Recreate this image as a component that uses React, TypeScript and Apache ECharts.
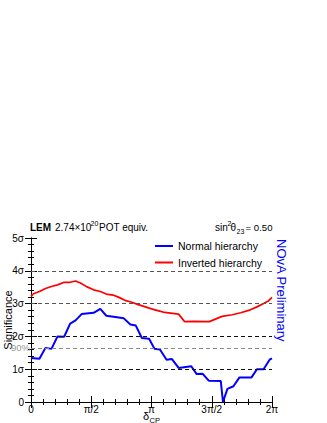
import React, { useEffect, useRef } from "react";
import * as echarts from "echarts";

// delta_CP in units of pi, significance in sigma
const nhDelta = [0, 0.07, 0.12, 0.17, 0.22, 0.275, 0.325, 0.37, 0.42, 0.52, 0.575, 0.625, 0.7, 0.77, 0.825, 0.87, 0.92, 0.98, 1.025, 1.07, 1.125, 1.17, 1.225, 1.33, 1.375, 1.425, 1.475, 1.575, 1.593, 1.63, 1.68, 1.73, 1.83, 1.875, 1.93, 1.98, 2.0];
const nhSig = [1.34, 1.32, 1.65, 1.62, 2.0, 1.99, 2.39, 2.49, 2.68, 2.72, 2.84, 2.63, 2.59, 2.55, 2.36, 2.33, 1.95, 1.93, 1.62, 1.6, 1.29, 1.31, 1.04, 1.09, 0.85, 0.86, 0.65, 0.64, 0.0, 0.4, 0.48, 0.75, 0.75, 1.0, 1.0, 1.29, 1.33];

const ihDelta = [0, 0.02, 0.07, 0.12, 0.17, 0.22, 0.275, 0.325, 0.37, 0.41, 0.465, 0.52, 0.575, 0.625, 0.68, 0.73, 0.78, 0.83, 0.89, 0.95, 1.0, 1.06, 1.11, 1.225, 1.275, 1.35, 1.48, 1.585, 1.67, 1.74, 1.82, 1.875, 1.93, 1.97, 2.0];
const ihSig = [3.22, 3.3, 3.37, 3.46, 3.52, 3.57, 3.65, 3.65, 3.69, 3.63, 3.51, 3.42, 3.37, 3.29, 3.26, 3.19, 3.1, 3.05, 2.97, 2.9, 2.84, 2.78, 2.73, 2.68, 2.45, 2.46, 2.45, 2.61, 2.66, 2.72, 2.81, 2.9, 3.0, 3.08, 3.19];

const xTickValues = [0, 0.5, 1, 1.5, 2];
const xTickLabels = ["0", "π/2", "π", "3π/2", "2π"];
const yTickLabels = ["0", "1σ", "2σ", "3σ", "4σ", "5σ"];
const seriesNames = ["Normal hierarchy", "Inverted hierarchy"];
const refLevels = [1, 2, 3, 4];
const cl90 = 1.645;

const FONT = "'Liberation Sans', Arial, Helvetica, sans-serif";

export default function App() {
  const ref = useRef<HTMLDivElement>(null);
  useEffect(() => {
    if (!ref.current) return;
    const chart = echarts.init(ref.current, undefined, { renderer: "svg" });
    const zip = (xs: number[], ys: number[]) => xs.map((x, i) => [x, ys[i]]);
    const axisCommon = {
      type: "value",
      axisLine: { show: true, lineStyle: { color: "#000", width: 1 } },
      axisTick: { show: true, inside: true, length: 6, lineStyle: { color: "#000" } },
      minorTick: { show: true, splitNumber: 5, length: 3, lineStyle: { color: "#000" } },
      splitLine: { show: false },
    };
    const option: any = {
      animation: false,
      textStyle: { fontFamily: FONT },
      grid: { left: 31, top: 238, width: 241, height: 164, show: false },
      xAxis: [
        {
          ...axisCommon,
          position: "bottom",
          min: 0,
          max: 2,
          interval: 0.5,
          axisLabel: {
            show: true,
            margin: 2,
            fontSize: 10,
            color: "#000",
            fontFamily: FONT,
            formatter: (v: number) => {
              const i = xTickValues.findIndex((t) => Math.abs(t - v) < 1e-6);
              return i >= 0 ? xTickLabels[i] : "";
            },
          },
        },
        {
          ...axisCommon,
          position: "top",
          min: 0,
          max: 2,
          interval: 0.5,
          axisLabel: { show: false },
        },
      ],
      yAxis: [
        {
          ...axisCommon,
          position: "left",
          min: 0,
          max: 5,
          interval: 1,
          axisLabel: {
            show: true,
            margin: 7,
            fontSize: 10,
            color: "#000",
            fontFamily: FONT,
            formatter: (v: number) => yTickLabels[Math.round(v)] ?? "",
          },
        },
        {
          ...axisCommon,
          position: "right",
          min: 0,
          max: 5,
          interval: 1,
          axisLabel: { show: false },
        },
      ],
      legend: {
        orient: "vertical",
        left: 155,
        top: 240,
        padding: 0,
        itemGap: 4.5,
        itemWidth: 18,
        itemHeight: 2,
        itemTextGap: 5,
        icon: "rect",
        textStyle: { fontSize: 10.5, color: "#000", fontFamily: FONT, lineHeight: 12 },
        data: seriesNames,
      },
      series: [
        {
          type: "line",
          name: "refs",
          data: [],
          z: 1,
          markLine: {
            silent: true,
            symbol: ["none", "none"],
            animation: false,
            data: [
              ...refLevels.map((v) => ({
                yAxis: v,
                lineStyle: { color: v >= 3 ? "#555" : "#111", type: [4, 3], width: 1 },
                label: { show: false },
              })),
              {
                yAxis: cl90,
                lineStyle: { color: "#888", type: [4, 3], width: 1 },
                label: {
                  show: true,
                  position: "start",
                  distance: 1,
                  formatter: "90%",
                  color: "#999",
                  fontSize: 9.5,
                  fontFamily: FONT,
                },
              },
            ],
          },
        },
        {
          type: "line",
          name: seriesNames[0],
          data: zip(nhDelta, nhSig),
          color: "#0000ff",
          showSymbol: false,
          symbol: "none",
          lineStyle: { color: "#0000ff", width: 2 },
          z: 3,
        },
        {
          type: "line",
          name: seriesNames[1],
          data: zip(ihDelta, ihSig),
          color: "#ff0000",
          showSymbol: false,
          symbol: "none",
          lineStyle: { color: "#ff0000", width: 1.7 },
          z: 3,
        },
      ],
      graphic: [
        { type: "text", x: 30, y: 227, style: { text: "LEM", font: `bold 10px ${FONT}`, fill: "#000", verticalAlign: "middle" } },
        { type: "text", x: 55, y: 227, style: { text: "2.74×10", font: `10px ${FONT}`, fill: "#000", verticalAlign: "middle" } },
        { type: "text", x: 90.5, y: 223.5, style: { text: "20", font: `7px ${FONT}`, fill: "#000", verticalAlign: "middle" } },
        { type: "text", x: 99, y: 227, style: { text: "POT equiv.", font: `10px ${FONT}`, fill: "#000", verticalAlign: "middle" } },
        { type: "text", x: 215, y: 227, style: { text: "sin", font: `10px ${FONT}`, fill: "#000", verticalAlign: "middle" } },
        { type: "text", x: 227.5, y: 223, style: { text: "2", font: `7px ${FONT}`, fill: "#000", verticalAlign: "middle" } },
        { type: "text", x: 230.5, y: 227, style: { text: "θ", font: `10px ${FONT}`, fill: "#000", verticalAlign: "middle" } },
        { type: "text", x: 236.5, y: 231, style: { text: "23", font: `7px ${FONT}`, fill: "#000", verticalAlign: "middle" } },
        { type: "text", x: 272.5, y: 227, style: { text: "= 0.50", font: `9.6px ${FONT}`, fill: "#000", align: "right", verticalAlign: "middle" } },
        {
          type: "text",
          x: 281,
          y: 239,
          rotation: -Math.PI / 2,
          style: { text: "NOvA Preliminary", font: `13px ${FONT}`, fill: "#0000ff", align: "left", verticalAlign: "middle" },
        },
        {
          type: "text",
          x: 8,
          y: 320,
          rotation: Math.PI / 2,
          style: { text: "Significance", font: `11px ${FONT}`, fill: "#000", align: "center", verticalAlign: "middle" },
        },
        { type: "text", x: 143, y: 416, style: { text: "δ", font: `11px ${FONT}`, fill: "#000", verticalAlign: "middle" } },
        { type: "text", x: 149.5, y: 420, style: { text: "CP", font: `7.5px ${FONT}`, fill: "#000", verticalAlign: "middle" } },
      ],
    };
    chart.setOption(option);
    return () => chart.dispose();
  }, []);
  return (
    <div
      ref={ref}
      style={{ position: "absolute", left: 0, top: 0, width: 327, height: 423, background: "#fff" }}
    />
  );
}
